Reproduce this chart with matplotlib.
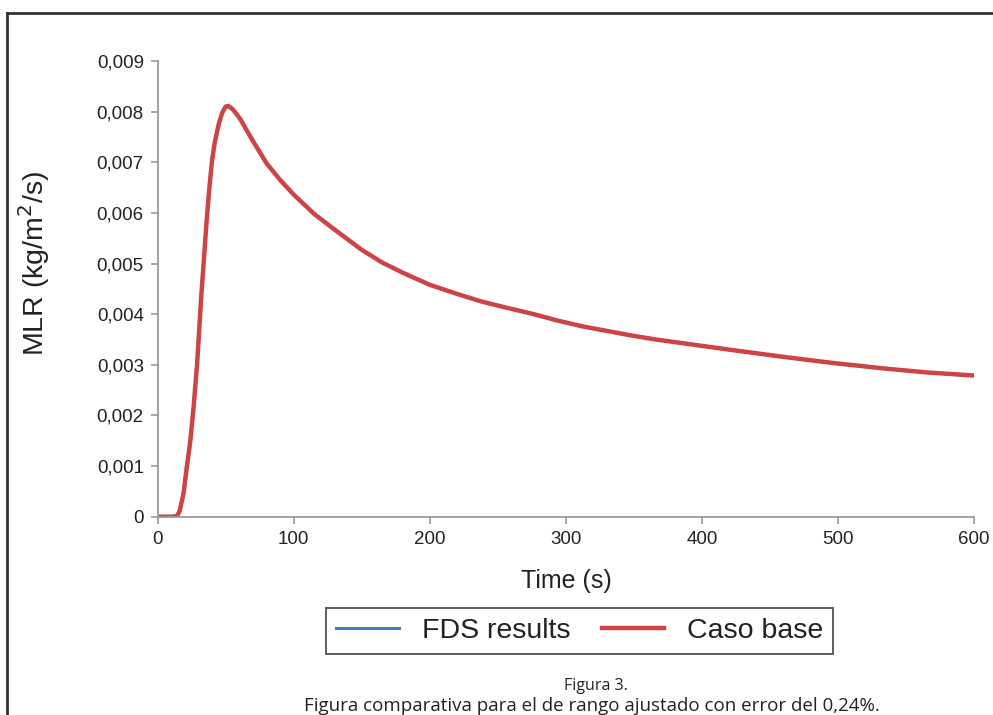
import matplotlib
matplotlib.use("Agg")
import matplotlib.pyplot as plt
from matplotlib.ticker import FuncFormatter
from matplotlib.lines import Line2D

# values
time = [0, 10, 14, 16, 19, 21, 24, 26.5, 29, 32, 34, 36, 38, 40, 42, 45, 47.5, 50, 52, 55,
        58, 61, 65, 70, 75, 80, 90, 100, 115, 130, 150, 165, 180, 200, 220, 238, 256,
        275, 293, 312, 330, 348, 366, 385, 420, 459, 495, 533, 565, 599]
fds = [0, 0, 0.00001, 0.0001, 0.00046, 0.0009, 0.0015, 0.0022, 0.00303, 0.00435, 0.0051,
       0.00586, 0.0065, 0.00705, 0.0074, 0.00777, 0.00798, 0.0081, 0.00811, 0.00805,
       0.00795, 0.00784, 0.00765, 0.00742, 0.0072, 0.00698, 0.00665, 0.00636, 0.00598,
       0.00567, 0.00527, 0.00502, 0.00482, 0.00458, 0.00440, 0.00425, 0.00413, 0.00401,
       0.00388, 0.00376, 0.00367, 0.00358, 0.00350, 0.00343, 0.00330, 0.00316, 0.00304,
       0.00293, 0.00285, 0.00279]
caso_base = list(fds)

plt.rcParams['font.family'] = ['Liberation Sans', 'DejaVu Sans']

fig = plt.figure(figsize=(9.93, 7.15), dpi=100)
ax = fig.add_axes([0.1588, 0.2773, 0.8222, 0.6374])

ax.plot(time, fds, color='#3d7fc4', lw=2.2, label='FDS results')
ax.plot(time, caso_base, color='#cc4444', lw=3.2, label='Caso base')

ax.set_xlim(0, 600)
ax.set_ylim(0, 0.009)
ax.set_xticks(range(0, 601, 100))
ax.set_yticks([i * 0.001 for i in range(10)])
ax.yaxis.set_major_formatter(FuncFormatter(lambda v, p: '0' if abs(v) < 1e-12 else f"{v:.3f}".replace('.', ',')))

for s in ['top', 'right']:
    ax.spines[s].set_visible(False)
for s in ['left', 'bottom']:
    ax.spines[s].set_color('#9a9a9a')
    ax.spines[s].set_linewidth(1.3)
ax.tick_params(direction='out', length=5, width=1.2, color='#9a9a9a', labelsize=13.5,
               labelcolor='#222222', pad=5)

ax.set_xlabel('Time (s)', fontsize=18, color='#222222')
ax.xaxis.set_label_coords(0.5, -0.115)
ax.set_ylabel('MLR (kg/m$^2$/s)', fontsize=20.5, color='#222222')
ax.yaxis.set_label_coords(-0.13, 0.555)

leg = ax.legend(loc='upper center', bbox_to_anchor=(0.517, -0.17), ncol=2, fontsize=20.5,
                frameon=True, fancybox=False, edgecolor='#333333', handlelength=2.2,
                columnspacing=1.1, handletextpad=0.8, borderpad=0.35)
leg.get_frame().set_linewidth(1.4)
for t in leg.get_texts():
    t.set_color('#222222')

fig.text(0.600, 0.041, 'Figura 3.', ha='center', va='center', fontsize=11.5,
         family=['Open Sans', 'DejaVu Sans'], color='#222222')
fig.text(0.596, 0.013, 'Figura comparativa para el de rango ajustado con error del 0,24%.',
         ha='center', va='center', fontsize=13.5, family=['Open Sans', 'DejaVu Sans'],
         color='#222222')

# outer frame (top and left edges)
fig.add_artist(Line2D([0.007, 1.0], [0.982, 0.982], transform=fig.transFigure, color='#333333', lw=2))
fig.add_artist(Line2D([0.007, 0.007], [0.0, 0.982], transform=fig.transFigure, color='#333333', lw=2))

fig.savefig('out.png', dpi=100)
